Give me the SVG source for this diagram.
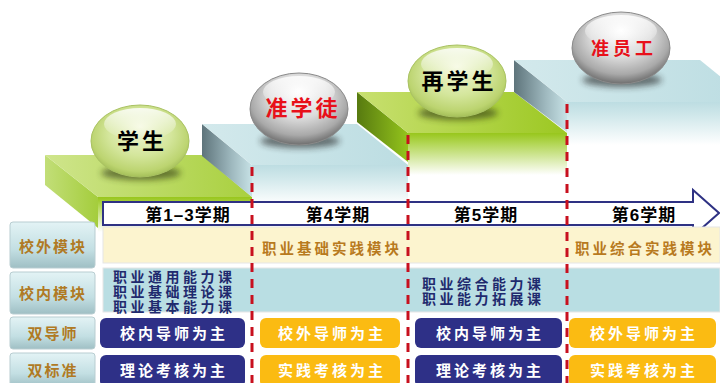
<svg xmlns="http://www.w3.org/2000/svg" width="720" height="383" viewBox="0 0 720 383">
<defs>
<linearGradient id="gTop" x1="0" y1="0" x2="1" y2="0"><stop offset="0" stop-color="#cfe58c"/><stop offset="1" stop-color="#a9d03f"/></linearGradient>
<linearGradient id="gTop3" x1="0" y1="0" x2="1" y2="0"><stop offset="0" stop-color="#c8e070"/><stop offset="1" stop-color="#9cc822"/></linearGradient>
<linearGradient id="gSide1" x1="0" y1="0" x2="1" y2="0"><stop offset="0" stop-color="#c2de78"/><stop offset="1" stop-color="#a4cd3c"/></linearGradient>
<linearGradient id="gSide3" x1="0" y1="0" x2="1" y2="0"><stop offset="0" stop-color="#577a10"/><stop offset="1" stop-color="#94c41c"/></linearGradient>
<linearGradient id="gFront" x1="0" y1="0" x2="0" y2="1"><stop offset="0" stop-color="#98c61c"/><stop offset="0.25" stop-color="#b2d654"/><stop offset="1" stop-color="#ffffff"/></linearGradient>
<linearGradient id="bTop" x1="0" y1="0" x2="1" y2="0"><stop offset="0" stop-color="#d3e9ec"/><stop offset="1" stop-color="#bcdde2"/></linearGradient>
<linearGradient id="bSide" x1="0" y1="0" x2="1" y2="0"><stop offset="0" stop-color="#5e747b"/><stop offset="0.6" stop-color="#9fb9bf"/><stop offset="1" stop-color="#c7e2e6"/></linearGradient>
<linearGradient id="bFront" x1="0" y1="0" x2="0" y2="1"><stop offset="0" stop-color="#bddde2"/><stop offset="0.3" stop-color="#cfe7ea"/><stop offset="1" stop-color="#ffffff"/></linearGradient>
<radialGradient id="gSph" cx="50%" cy="45%" r="58%" fx="50%" fy="30%"><stop offset="0" stop-color="#f3f8da"/><stop offset="0.55" stop-color="#d4e69c"/><stop offset="0.85" stop-color="#bcd470"/><stop offset="1" stop-color="#9cb850"/></radialGradient>
<radialGradient id="sSph" cx="50%" cy="40%" r="60%" fx="50%" fy="25%"><stop offset="0" stop-color="#ffffff"/><stop offset="0.5" stop-color="#dcdcdc"/><stop offset="0.82" stop-color="#a9a9a9"/><stop offset="1" stop-color="#6e6e6e"/></radialGradient>
<linearGradient id="hl" x1="0" y1="0" x2="0" y2="1"><stop offset="0" stop-color="#ffffff" stop-opacity="0.85"/><stop offset="1" stop-color="#ffffff" stop-opacity="0"/></linearGradient>
<linearGradient id="lbl" x1="0" y1="0" x2="0" y2="1"><stop offset="0" stop-color="#e3f3f5"/><stop offset="0.6" stop-color="#c3dfe3"/><stop offset="1" stop-color="#9fbfc4"/></linearGradient>
<filter id="blur" x="-30%" y="-100%" width="160%" height="300%"><feGaussianBlur stdDeviation="3"/></filter>
<style>
.cjk{font-family:"Liberation Sans","Noto Sans CJK SC",sans-serif;font-weight:bold}
.sph{font-size:22px;letter-spacing:3px;text-anchor:middle}
.hdr{font-size:17px;fill:#000;letter-spacing:1px;text-anchor:middle}
.lab{font-size:15px;fill:#b07a24;letter-spacing:2px;text-anchor:middle}
.ext{font-size:14.5px;fill:#b87a1e;letter-spacing:3px}
.int{font-size:14px;fill:#1f2a6e;letter-spacing:3.5px}
.btx{font-size:15px;fill:#fff;letter-spacing:3px;text-anchor:middle}
.navy{fill:#2e3087}
.orng{fill:#fbbb12}
.lbox{fill:url(#lbl);stroke:#b8cdd1;stroke-width:1}
.dash{stroke:#c8101e;stroke-width:3;stroke-dasharray:9 7;fill:none}
</style>
</defs>

<g id="steps">
  <g id="step1">
    <polygon points="98,197 252,197 252,232 98,232" fill="url(#gFront)"/>
    <polygon points="45,155 98,197 98,228 45,185" fill="url(#gSide1)"/>
    <polygon points="45,155 202,155 252,197 98,197" fill="url(#gTop)"/>
  </g>
  <g id="step2">
    <polygon points="252,165 408,165 408,205 252,205" fill="url(#bFront)"/>
    <polygon points="202,124 252,165 252,197 202,156" fill="url(#bSide)"/>
    <polygon points="202,124 357,124 408,165 252,165" fill="url(#bTop)"/>
  </g>
  <g id="step3">
    <polygon points="408,133 567,133 567,175 408,175" fill="url(#gFront)"/>
    <polygon points="357,92 408,133 408,162 357,122" fill="url(#gSide3)"/>
    <polygon points="357,92 514,92 567,133 408,133" fill="url(#gTop3)"/>
  </g>
  <g id="step4">
    <polygon points="567,102 720,102 720,145 567,145" fill="url(#bFront)"/>
    <polygon points="514,60 567,102 567,132 514,92" fill="url(#bSide)"/>
    <polygon points="514,60 700,60 752,102 567,102" fill="url(#bTop)"/>
  </g>
</g>

<g id="sphere-xuesheng">
  <ellipse cx="141" cy="173" rx="40" ry="7" fill="#2a3310" opacity="0.6" filter="url(#blur)"/>
  <ellipse cx="140" cy="141" rx="49" ry="36" fill="url(#gSph)" stroke="#a9c262" stroke-width="1"/>
  <ellipse cx="140" cy="124" rx="36" ry="16" fill="url(#hl)"/>
  <text class="cjk sph" x="142" y="149" fill="#000">学生</text>
</g>
<g id="sphere-zhunxuetu">
  <ellipse cx="300" cy="141" rx="40" ry="7" fill="#222" opacity="0.6" filter="url(#blur)"/>
  <ellipse cx="299" cy="109" rx="49" ry="36" fill="url(#sSph)" stroke="#8a8a8a" stroke-width="1"/>
  <ellipse cx="299" cy="92" rx="36" ry="16" fill="url(#hl)"/>
  <text class="cjk sph" x="303" y="116" fill="#e8101a">准学徒</text>
</g>
<g id="sphere-zaixuesheng">
  <ellipse cx="458" cy="113" rx="40" ry="7" fill="#2a3310" opacity="0.6" filter="url(#blur)"/>
  <ellipse cx="457" cy="81" rx="49" ry="36" fill="url(#gSph)" stroke="#a9c262" stroke-width="1"/>
  <ellipse cx="457" cy="64" rx="36" ry="16" fill="url(#hl)"/>
  <text class="cjk sph" x="459" y="89" fill="#000">再学生</text>
</g>
<g id="sphere-zhunyuangong">
  <ellipse cx="622" cy="80" rx="40" ry="7" fill="#222" opacity="0.6" filter="url(#blur)"/>
  <ellipse cx="621" cy="48" rx="49" ry="36" fill="url(#sSph)" stroke="#8a8a8a" stroke-width="1"/>
  <ellipse cx="621" cy="31" rx="36" ry="16" fill="url(#hl)"/>
  <text class="cjk" x="624" y="55" fill="#e8101a" font-size="18" letter-spacing="4" text-anchor="middle">准员工</text>
</g>

<g id="header-arrow">
  <polygon points="103,202 693,202 693,190 719,213 693,236 693,225 103,225" fill="#fff" stroke="#2e3183" stroke-width="2"/>
  <text class="cjk hdr" x="188" y="221">第1–3学期</text>
  <text class="cjk hdr" x="338" y="221">第4学期</text>
  <text class="cjk hdr" x="486" y="221">第5学期</text>
  <text class="cjk hdr" x="644" y="221">第6学期</text>
</g>

<g id="row-waibu">
  <rect x="103" y="227" width="617" height="36" fill="#fcf4cf" stroke="#e6e6e6" stroke-width="1"/>
  <text class="cjk ext" x="262" y="254">职业基础实践模块</text>
  <text class="cjk ext" x="575" y="254">职业综合实践模块</text>
</g>
<g id="row-neibu">
  <rect x="103" y="268" width="617" height="44" fill="#b9dee3" stroke="#e6e6e6" stroke-width="1"/>
  <text class="cjk int" x="113" y="282">职业通用能力课</text>
  <text class="cjk int" x="113" y="297">职业基础理论课</text>
  <text class="cjk int" x="113" y="312">职业基本能力课</text>
  <text class="cjk int" x="422" y="289">职业综合能力课</text>
  <text class="cjk int" x="422" y="304">职业能力拓展课</text>
</g>

<g id="labels">
  <g id="label-waibu"><rect class="lbox" x="10" y="222" width="85" height="46" rx="3"/><text class="cjk lab" x="53" y="252">校外模块</text></g>
  <g id="label-neibu"><rect class="lbox" x="10" y="272" width="85" height="42" rx="3"/><text class="cjk lab" x="53" y="299">校内模块</text></g>
  <g id="label-daoshi"><rect class="lbox" x="10" y="317" width="85" height="32" rx="3"/><text class="cjk lab" x="53" y="339">双导师</text></g>
  <g id="label-biaozhun"><rect class="lbox" x="10" y="353" width="85" height="34" rx="3"/><text class="cjk lab" x="53" y="376">双标准</text></g>
</g>

<g id="row-daoshi">
  <rect class="navy" x="100" y="318" width="145" height="30" rx="6"/><text class="cjk btx" x="174" y="339">校内导师为主</text>
  <rect class="orng" x="260" y="318" width="140" height="30" rx="6"/><text class="cjk btx" x="332" y="339">校外导师为主</text>
  <rect class="navy" x="415" y="318" width="147" height="30" rx="6"/><text class="cjk btx" x="490" y="339">校内导师为主</text>
  <rect class="orng" x="569" y="318" width="147" height="30" rx="6"/><text class="cjk btx" x="644" y="339">校外导师为主</text>
</g>
<g id="row-biaozhun">
  <rect class="navy" x="100" y="355" width="145" height="32" rx="6"/><text class="cjk btx" x="174" y="376">理论考核为主</text>
  <rect class="orng" x="260" y="355" width="140" height="32" rx="6"/><text class="cjk btx" x="332" y="376">实践考核为主</text>
  <rect class="navy" x="415" y="355" width="147" height="32" rx="6"/><text class="cjk btx" x="490" y="376">理论考核为主</text>
  <rect class="orng" x="569" y="355" width="147" height="32" rx="6"/><text class="cjk btx" x="644" y="376">实践考核为主</text>
</g>

<g id="connectors">
  <line class="dash" x1="252" y1="167" x2="252" y2="383"/>
  <line class="dash" x1="408" y1="135" x2="408" y2="383"/>
  <line class="dash" x1="567" y1="104" x2="567" y2="383"/>
</g>
</svg>
